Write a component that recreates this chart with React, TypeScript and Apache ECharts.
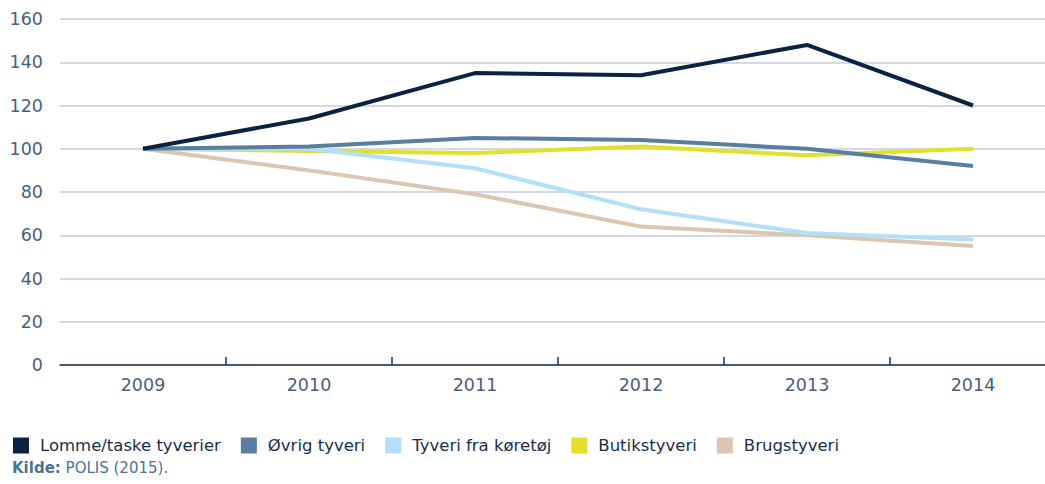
import React, { useEffect, useRef } from "react";
import * as echarts from "echarts";

const years = ["2009", "2010", "2011", "2012", "2013", "2014"];
const lommeTaske = [100, 114, 135, 134, 148, 120];
const oevrigTyveri = [100, 101, 105, 104, 100, 92];
const tyveriKoeretoej = [100, 100, 91, 72, 61, 58];
const butikstyveri = [100, 99, 98, 101, 97, 100];
const brugstyveri = [100, 90, 79, 64, 60, 55];

const seriesDefs = [
  { name: "Lomme/taske tyverier", data: lommeTaske, color: "#0b2240" },
  { name: "Øvrig tyveri", data: oevrigTyveri, color: "#5a7e9f" },
  { name: "Tyveri fra køretøj", data: tyveriKoeretoej, color: "#b2e0f8" },
  { name: "Butikstyveri", data: butikstyveri, color: "#e0e128" },
  { name: "Brugstyveri", data: brugstyveri, color: "#dcc6b1" },
];

const FONT = "'DejaVu Sans', sans-serif";

export default function App() {
  const ref = useRef<HTMLDivElement>(null);
  useEffect(() => {
    if (!ref.current) return;
    const chart = echarts.init(ref.current, undefined, { renderer: "svg" });
    chart.setOption({
      animation: false,
      grid: { left: 60, top: 19, width: 996, height: 346, containLabel: false },
      legend: {
        left: 13,
        top: 437,
        padding: 0,
        itemWidth: 16,
        itemHeight: 16,
        itemGap: 20,
        icon: "rect",
        textStyle: { fontFamily: FONT, fontSize: 16.5, color: "#1a2e4c", padding: [0, 0, 0, 6] },
        data: seriesDefs.map((s) => s.name),
      },
      xAxis: {
        type: "category",
        data: years,
        boundaryGap: true,
        axisLine: { lineStyle: { color: "#1c3150", width: 1.5 } },
        axisTick: {
          show: true,
          inside: true,
          length: 8,
          interval: (i: number) => i !== 0,
          lineStyle: { color: "#1c3150", width: 1.5 },
        },
        axisLabel: { fontFamily: FONT, fontSize: 17.5, color: "#4a5f7a", margin: 11 },
      },
      yAxis: {
        type: "value",
        min: 0,
        max: 160,
        interval: 20,
        axisLine: { show: false },
        axisTick: { show: false },
        axisLabel: { fontFamily: FONT, fontSize: 17.5, color: "#4a5f7a", margin: 17 },
        splitLine: { lineStyle: { color: "#c3cedd", width: 1.5 } },
      },
      series: seriesDefs.map((s, i) => ({
        name: s.name,
        type: "line",
        data: s.data,
        symbol: "none",
        z: 10 - i,
        itemStyle: { color: s.color },
        lineStyle: { color: s.color, width: 4 },
      })),
      graphic: [
        {
          type: "text",
          left: 12,
          top: 460,
          style: {
            text: "{b|Kilde:} POLIS (2015).",
            rich: {
              b: { fontWeight: "bold", fontSize: 15, fontFamily: FONT, fill: "#4b7396" },
            },
            fontSize: 15,
            fontFamily: FONT,
            fill: "#4b7396",
          },
        },
      ],
    });
    return () => chart.dispose();
  }, []);
  return (
    <div style={{ position: "absolute", left: 0, top: 0, width: 1045, height: 484, overflow: "hidden", background: "#fff" }}>
      <div ref={ref} style={{ width: 1060, height: 484 }} />
    </div>
  );
}
